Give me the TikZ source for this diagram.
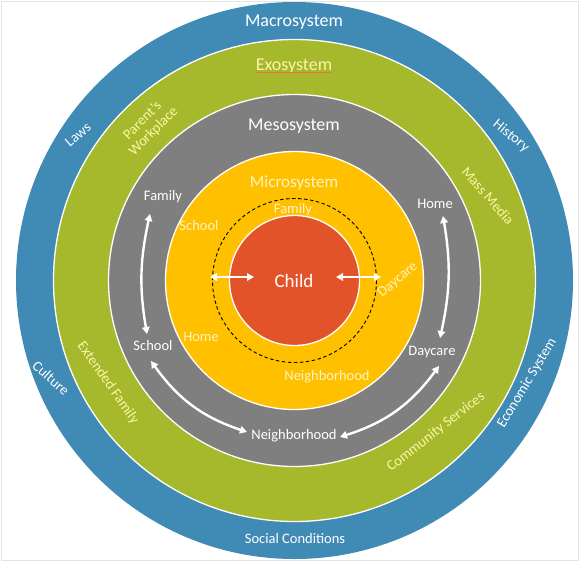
\documentclass[tikz,border=0pt]{standalone}
\usepackage{fontspec}
\setmainfont{Carlito}
\usetikzlibrary{arrows.meta}
\definecolor{macroblue}{HTML}{408AB6}
\definecolor{exogreen}{HTML}{A6B92C}
\definecolor{mesogray}{HTML}{7F7F7F}
\definecolor{microyellow}{HTML}{FFC000}
\definecolor{childred}{HTML}{E2532A}
\definecolor{greentext}{HTML}{FAF6A6}
\definecolor{exotext}{HTML}{FFF2AA}
\definecolor{microtext}{HTML}{FFF3C4}
\definecolor{framegray}{HTML}{E4E4E4}
\definecolor{spellline}{HTML}{E8782A}
\begin{document}
\begin{tikzpicture}[x=1pt,y=-1pt,
  ring/.style={draw=white,line width=1.3pt},
  bigtitle/.style={font=\fontsize{18}{20}\selectfont,inner sep=0pt},
  lbl/.style={font=\fontsize{14.5}{15.5}\selectfont,inner sep=0pt},
  whitelbl/.style={lbl,text=white},
  greenlbl/.style={lbl,text=greentext},
  microlbl/.style={lbl,text=microtext},
  linkarrow/.style={white,line width=2.4pt,{Triangle[length=7pt,width=7.5pt]}-{Triangle[length=7pt,width=7.5pt]}},
]
\useasboundingbox (0,0) rectangle (581,563);
\fill[white] (0,0) rectangle (581,563);
\draw[framegray,line width=1pt] (1.5,1.5) rectangle (578,560);

\coordinate (c) at (294.5,280.5);
\fill[macroblue] (c) circle[radius=278.5];
\filldraw[fill=exogreen,ring] (c) circle[radius=241];
\filldraw[fill=mesogray,ring] (c) circle[radius=186];
\filldraw[fill=microyellow,ring] (c) circle[radius=129];
\draw[black,line width=0.9pt,dash pattern=on 3.5pt off 2.5pt] (c) circle[radius=82];
\filldraw[fill=childred,ring] (c) circle[radius=65];

% titles
\node[bigtitle,text=white] (macro) at (294,22) {Macrosystem};
\node[bigtitle,text=exotext] (exo) at (294,66) {Exosystem};
\draw[spellline,line width=0.8pt] ([xshift=1pt,yshift=-2.5pt]exo.base west) -- ([xshift=-1pt,yshift=-2.5pt]exo.base east);
\node[bigtitle,text=white] (meso) at (294,126) {Mesosystem};
\node[bigtitle,text=microtext,font=\fontsize{17}{19}\selectfont] (micro) at (294,183) {Microsystem};
\node[bigtitle,text=white,font=\fontsize{19}{21}\selectfont] (child) at (294,281) {Child};

% macro ring labels
\node[whitelbl,rotate=40] (laws) at (78,135) {Laws};
\node[whitelbl,rotate=-39] (history) at (511,136) {History};
\node[whitelbl,rotate=-41] (culture) at (51,378) {Culture};
\node[whitelbl,rotate=59] (econ) at (527,383) {Economic System};
\node[whitelbl] (social) at (295,539) {Social Conditions};

% exo ring labels
\node[greenlbl,rotate=45,align=center] (work) at (148,126) {Parent’s\\Workplace};
\node[greenlbl,rotate=-49] (media) at (488,196) {Mass Media};
\node[greenlbl,rotate=-55] (extfam) at (108,383) {Extended Family};
\node[greenlbl,rotate=38] (commserv) at (436,432) {Community Services};

% meso ring labels
\node[whitelbl] (mfamily) at (163,197) {Family};
\node[whitelbl] (mschool) at (153,346) {School};
\node[whitelbl] (mhome) at (435,204) {Home};
\node[whitelbl] (mdaycare) at (432,352) {Daycare};
\node[whitelbl] (mneigh) at (294,436) {Neighborhood};

% micro ring labels
\node[microlbl] (ifamily) at (293,210) {Family};
\node[microlbl] (ischool) at (199,226) {School};
\node[microlbl] (ihome) at (201,337) {Home};
\node[microlbl] (ineigh) at (327,377) {Neighborhood};
\node[microlbl,rotate=40] (idaycare) at (398,280) {Daycare};

% arrow end points
\coordinate (famTop) at (150,214);
\coordinate (famBot) at (147,334);
\coordinate (homeTop) at (443,216);
\coordinate (homeBot) at (440,338);
\coordinate (schBot) at (151,361);
\coordinate (neighL) at (247,432);
\coordinate (neighR) at (340,437);
\coordinate (dayBot) at (439,366);
\coordinate (inL1) at (210,277);
\coordinate (inL2) at (254,277);
\coordinate (inR1) at (336,277);
\coordinate (inR2) at (381,277);

\draw[linkarrow] (famTop) to[bend right=11] (famBot);
\draw[linkarrow] (homeTop) to[bend left=11] (homeBot);
\draw[linkarrow] (schBot) to[bend right=18] (neighL);
\draw[linkarrow] (neighR) to[bend right=18] (dayBot);
\draw[linkarrow] (inL1) -- (inL2);
\draw[linkarrow] (inR1) -- (inR2);
\end{tikzpicture}
\end{document}
